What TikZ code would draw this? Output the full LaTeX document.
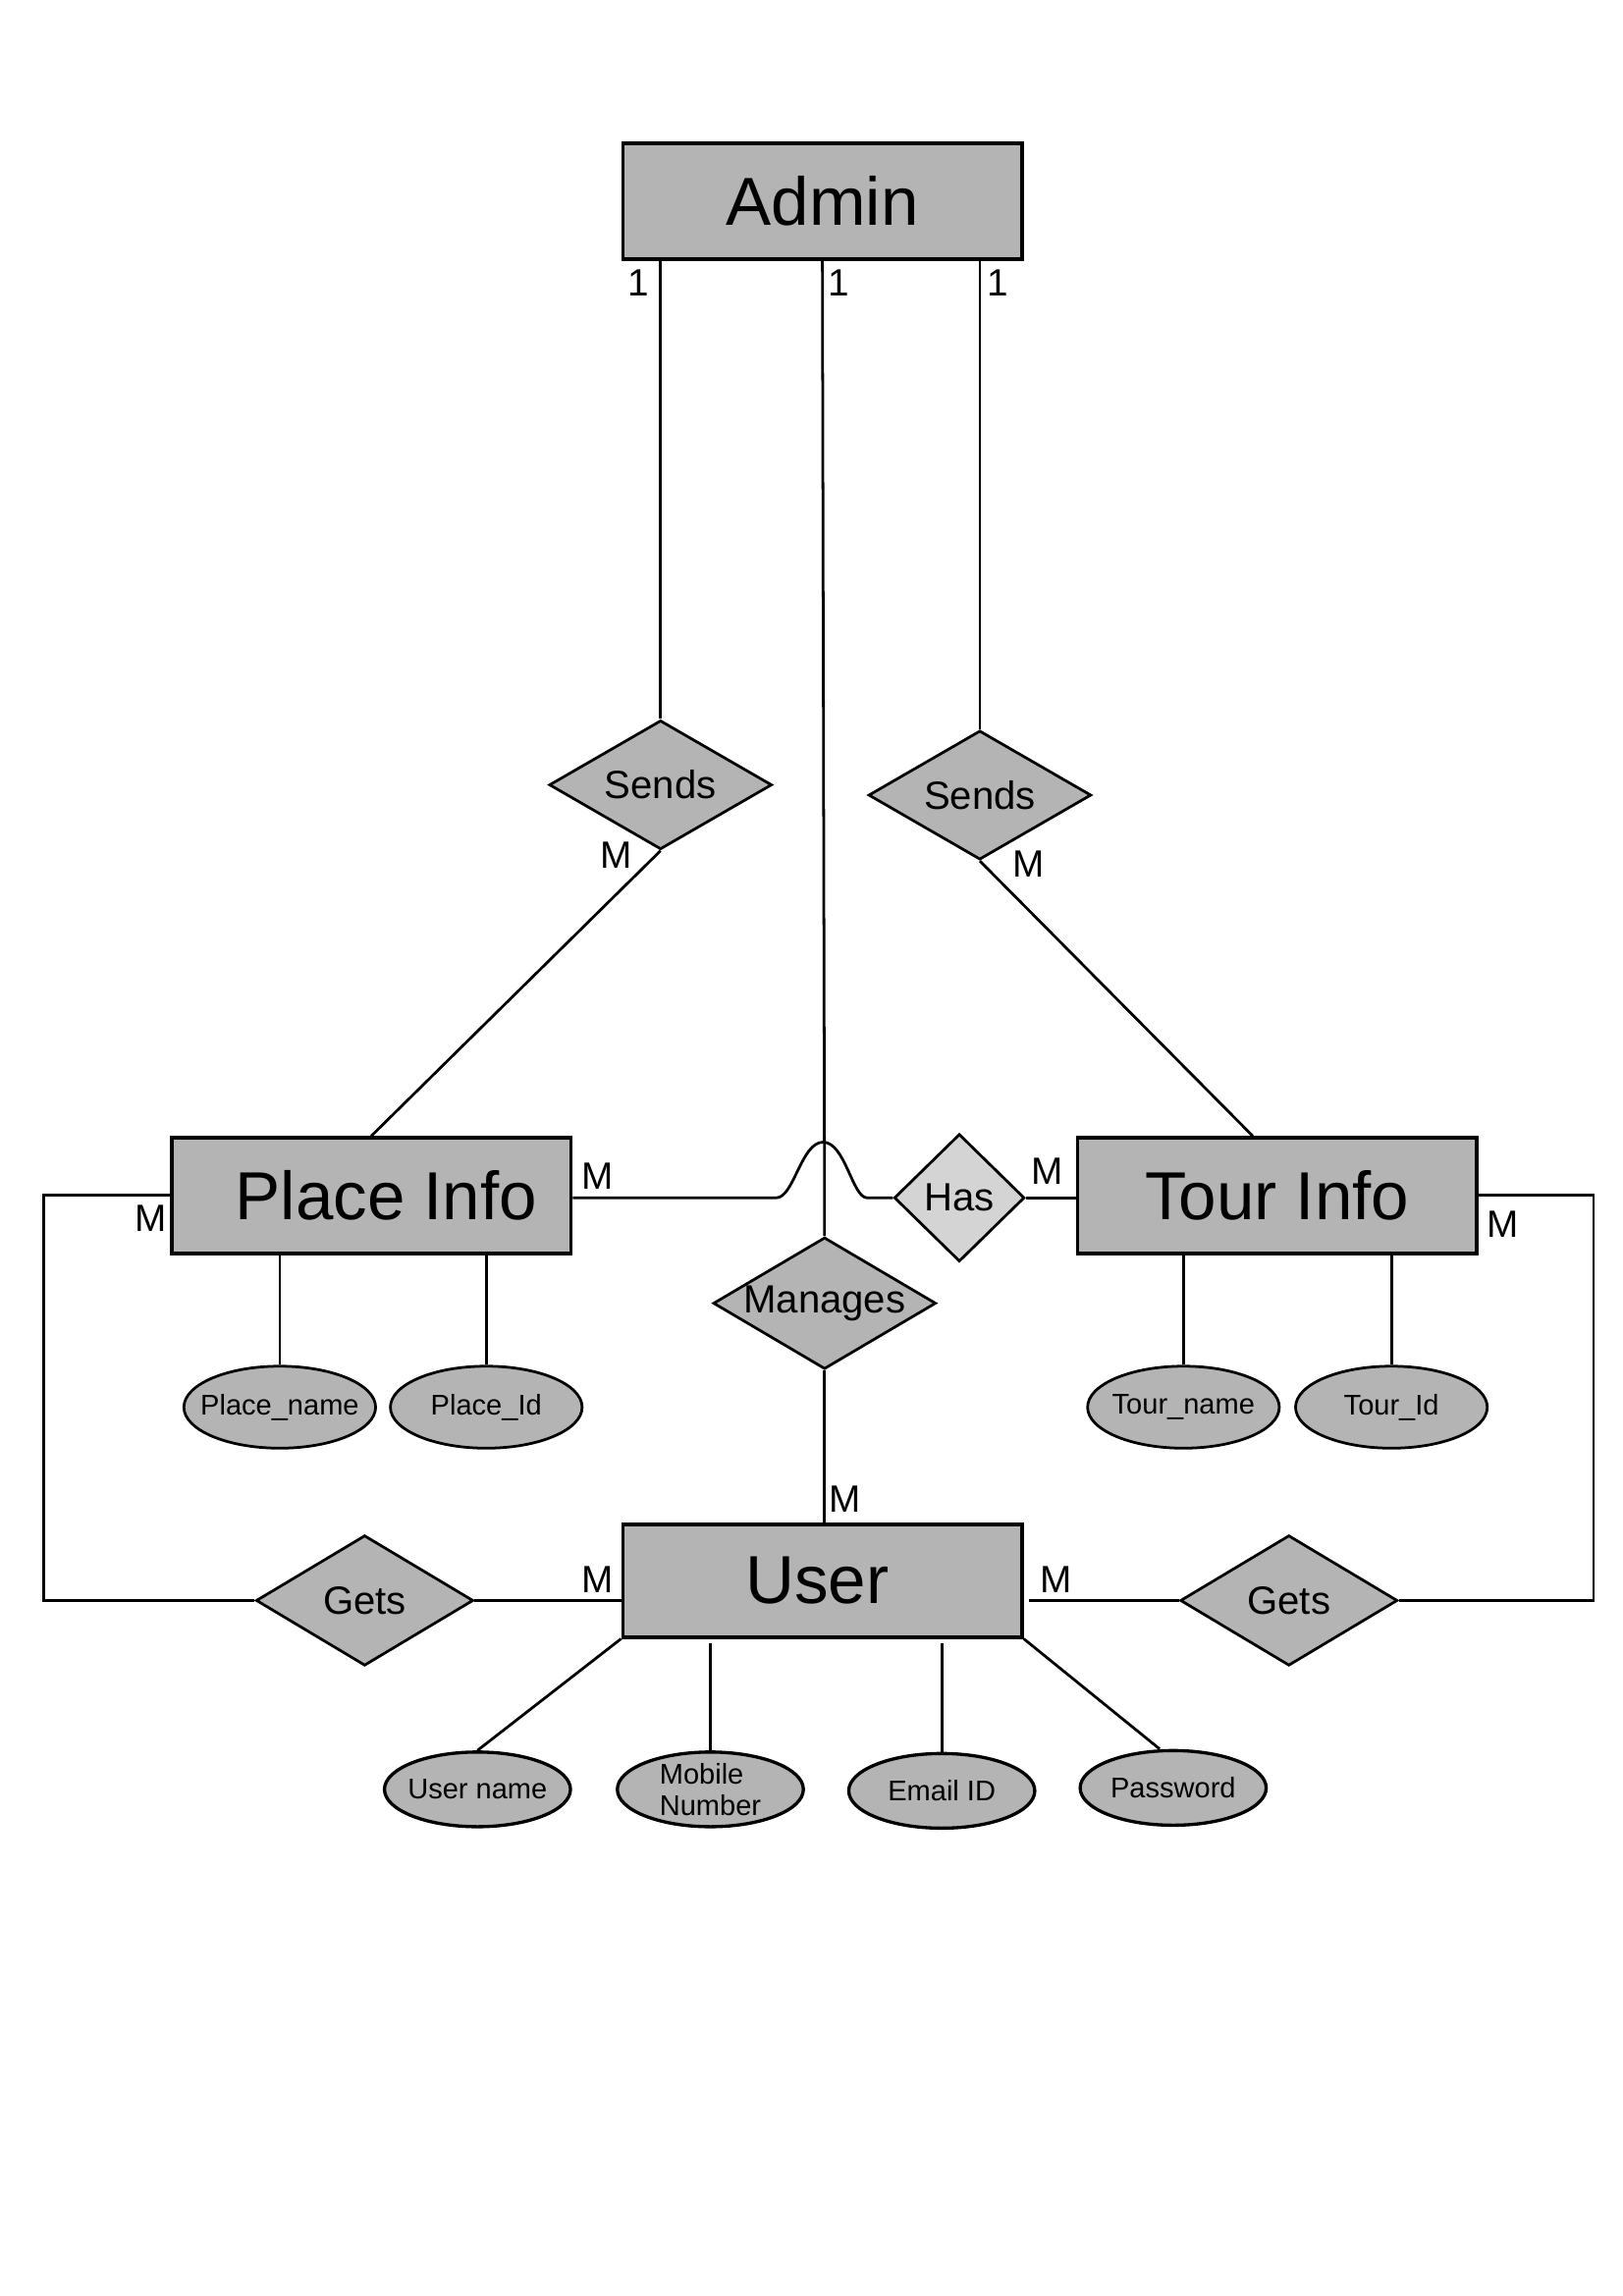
\documentclass[tikz,border=0pt]{standalone}
\usepackage{fontspec}
\setmainfont{Liberation Sans}
\usetikzlibrary{positioning, shapes.geometric}

\definecolor{erfill}{HTML}{B4B4B4}
\definecolor{hasfill}{HTML}{D4D4D4}

\begin{document}
\begin{tikzpicture}[
  x=0.5393pt, y=-0.5393pt,
  line width=1pt,
  entity/.style={draw, fill=erfill, line width=1.3pt, minimum width=147pt,
                 minimum height=42.6pt, inner sep=0pt,
                 font=\fontsize{25}{30}\selectfont},
  rel/.style={draw, diamond, fill=erfill, inner sep=0pt, shape aspect=1.7,
              minimum width=82pt, minimum height=47.5pt,
              font=\fontsize{14.5}{17}\selectfont},
  attr/.style={draw, ellipse, fill=erfill, inner sep=0pt, inner xsep=-12pt,
               line width=1.2pt, minimum width=68.5pt, minimum height=27.5pt,
               font=\fontsize{10.5}{11.5}\selectfont},
  card/.style={inner sep=0pt, font=\fontsize{14}{16}\selectfont}
]
\useasboundingbox (0,0) rectangle (1108,1568);

% entities
\node[entity] (admin) at (561.5,137.5) {Admin};
\node[entity] (place) at (253.5,816.5) {\hspace*{11pt}Place Info};
\node[entity] (tour) at (872,816.5) {Tour Info};
\node[entity, minimum height=41.5pt] (user) at (561.5,1079.5) {User\hspace*{4pt}};

% relations
\node[rel] (sendsL) at (451,536) {Sends};
\node[rel] (sendsR) at (669,543) {Sends};
\node[rel, minimum height=48.5pt] (manages) at (563,890) {Manages};
\node[rel, fill=hasfill, shape aspect=1, minimum width=48pt,
      minimum height=47pt] (has) at (655,818) {Has};
\node[rel, minimum width=80pt, minimum height=48pt] (getsL) at (249,1093) {Gets};
\node[rel, minimum width=80pt, minimum height=48pt] (getsR) at (880,1093) {Gets};

% attributes
\foreach \n/\x/\lab in {pname/191/Place\_name, pid/332/Place\_Id,
                        tname/808/Tour\_name, tid/950/Tour\_Id}
  \node[attr, line width=1pt, minimum width=70.6pt, minimum height=30.2pt]
    (\n) at (\x,961) {\lab};
\node[attr] (uname) at (326,1222) {User name};
\node[attr, align=left] (mobile) at (485,1222) {Mobile\\Number};
\node[attr] (email) at (643,1223) {Email ID};
\node[attr] (pass) at (801,1221) {Password};

% admin links
\draw (sendsL.north) -- (sendsL.north |- admin.south);
\draw (sendsR.north) -- (sendsR.north |- admin.south);
\draw (admin.south) -- (manages.north);
\draw (sendsL.south) -- (place.north);
\draw (sendsR.south) -- ([xshift=-9pt]tour.north);

% place -- has -- tour, jumping over the manages line
\coordinate (jumpA) at (530,818);
\coordinate (jumpB) at (592,818);
\draw (place.east |- jumpA) -- (jumpA)
  .. controls (542,818) and (547,780) .. (562,780)
  .. controls (577,780) and (582,818) .. (jumpB) -- (has.west);
\draw (has.east) -- (tour.west |- has.east);

% gets loops
\coordinate (loopL) at (30,816);
\coordinate (loopR) at (1088,816);
\draw (place.west |- loopL) -- (loopL) |- (getsL.west);
\draw (tour.east |- loopR) -- (loopR) |- (getsR.east);
\draw (getsL.east) -- (getsL.east -| user.west);
\draw (getsR.west) -- ([xshift=2pt]getsR.west -| user.east);
\draw (manages.south) -- (manages.south |- user.north);

% attribute links
\foreach \n in {pname, pid}
  \draw (\n.north) -- (\n.north |- place.south);
\foreach \n in {tname, tid}
  \draw (\n.north) -- (\n.north |- tour.south);
\draw (user.south west) -- (uname.north);
\draw (mobile.north) -- ([yshift=-1.5pt]mobile.north |- user.south);
\draw (email.north) -- ([yshift=-1.5pt]email.north |- user.south);
\draw (user.south east) -- ([xshift=-5pt]pass.north);

% cardinalities
\node[card] (c1) at (436,193) {1};
\node[card] (c2) at (573,193) {1};
\node[card] (c3) at (681,193) {1};
\node[card] (m1) at (421,584) {M};
\node[card] (m2) at (702,590) {M};
\node[card] (m3) at (408,803) {M};
\node[card] (m4) at (715,800) {M};
\node[card] (m5) at (103,832) {M};
\node[card] (m6) at (1026,836) {M};
\node[card] (m7) at (577,1024) {M};
\node[card] (m8) at (408,1079) {M};
\node[card] (m9) at (721,1079) {M};
\end{tikzpicture}
\end{document}
